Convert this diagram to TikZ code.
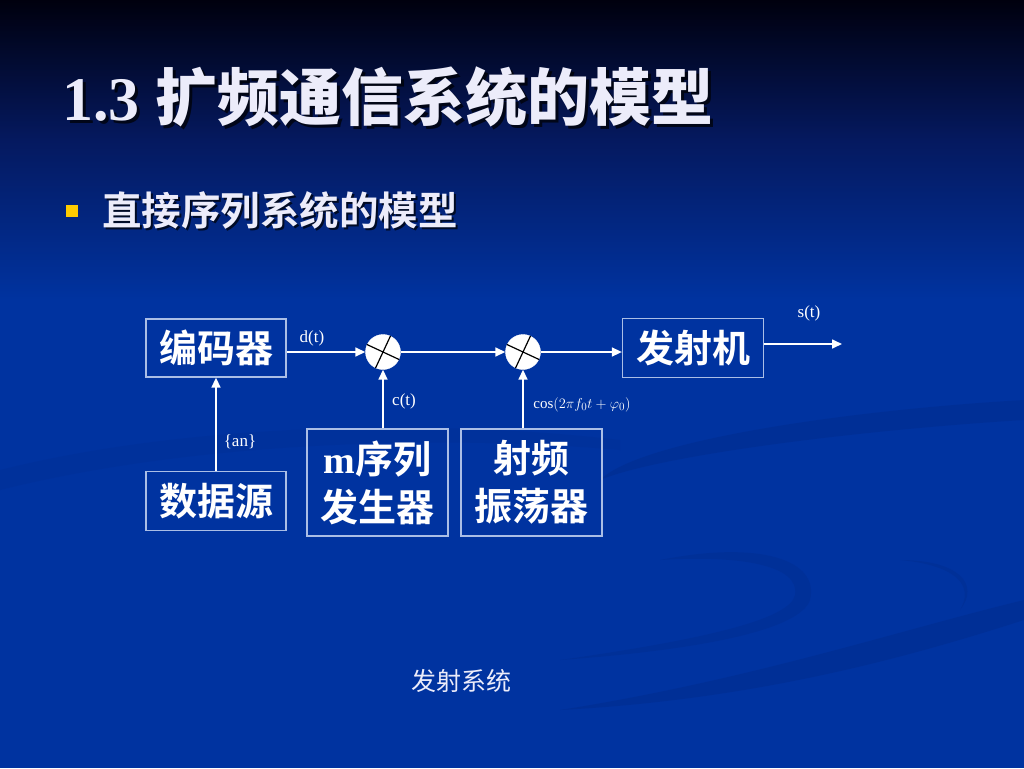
\documentclass[tikz,border=0pt]{standalone}
\usepackage{fontspec}
\setmainfont{Liberation Serif}
\newfontfamily\cjk{Noto Sans CJK SC}
\newfontfamily\cjkb{Noto Sans CJK SC Bold}
\usetikzlibrary{arrows.meta,calc}
\definecolor{bgblue}{RGB}{0,51,160}
\definecolor{bgtop}{RGB}{0,0,14}
\definecolor{bgmid}{RGB}{5,25,95}
\definecolor{titlec}{RGB}{236,236,250}
\definecolor{boxline}{RGB}{170,190,230}
\definecolor{bulletc}{RGB}{255,204,0}
\definecolor{swoosh}{RGB}{0,40,130}
\tikzset{
  blk/.style={draw=boxline,line width=1.3pt,text=white,inner sep=0pt,align=center,
    font=\cjkb\fontsize{38}{48}\selectfont},
  mixer/.style={circle,fill=white,draw=white,minimum size=35pt,inner sep=0pt},
  sig/.style={white,line width=1.6pt,-{Triangle[length=10pt,width=9pt]}},
  lbl/.style={text=white,inner sep=0pt,font=\fontsize{17}{20}\selectfont},
}
\begin{document}
\begin{tikzpicture}[x=1pt,y=-1pt]
\useasboundingbox (0,0) rectangle (1024,768);
% background
\fill[bgblue] (0,0) rectangle (1024,768);
\shade[top color=bgtop,bottom color=bgmid] (0,0) rectangle (1024,140);
\shade[top color=bgmid,bottom color=bgblue] (0,139.5) rectangle (1024,300);
% swooshes
\fill[swoosh,opacity=0.3] (600,480) .. controls (640,440) and (850,410) .. (1024,400)
  -- (1024,420) .. controls (860,430) and (660,455) .. (600,480) -- cycle;
\fill[swoosh,opacity=0.15] (0,470) .. controls (200,420) and (450,420) .. (620,440)
  -- (620,450) .. controls (450,435) and (200,440) .. (0,490) -- cycle;
\fill[swoosh,opacity=0.3] (560,710) .. controls (750,680) and (900,630) .. (1024,600)
  -- (1024,620) .. controls (900,660) and (750,700) .. (560,710) -- cycle;
\fill[swoosh,opacity=0.25] (660,560) .. controls (760,540) and (820,560) .. (810,600)
  .. controls (800,630) and (700,650) .. (560,660)
  .. controls (700,640) and (790,620) .. (795,595)
  .. controls (800,565) and (740,555) .. (660,560) -- cycle;
\fill[swoosh,opacity=0.25] (900,560) .. controls (960,560) and (980,585) .. (960,610)
  .. controls (975,585) and (955,565) .. (900,560) -- cycle;
% title
\node[anchor=west,inner sep=0pt,text=black,opacity=0.7] (titleshadow) at (65,100)
  {\fontsize{62}{68}\selectfont\bfseries 1.3 {\cjkb 扩频通信系统的模型}};
\node[anchor=west,inner sep=0pt,text=titlec] (title) at (62,97)
  {\fontsize{62}{68}\selectfont\bfseries 1.3 {\cjkb 扩频通信系统的模型}};
% bullet
\fill[bulletc] (66,205) rectangle (78,217);
\node[anchor=west,inner sep=0pt,text=black,opacity=0.7] (bulletshadow) at (104,212)
  {\cjkb\fontsize{39.5}{44}\selectfont 直接序列系统的模型};
\node[anchor=west,inner sep=0pt,text=titlec] (bullet) at (102,210)
  {\cjkb\fontsize{39.5}{44}\selectfont 直接序列系统的模型};
% blocks
\node[blk,minimum width=140pt,minimum height=58pt] (enc) at (216,348) {编码器};
\node[blk,minimum width=140pt,minimum height=59pt] (src) at (216,501) {数据源};
\node[blk,minimum width=141pt,minimum height=107pt] (mseq) at (377.5,482.5)
  {{\rmfamily\bfseries m}序列\\发生器};
\node[blk,minimum width=141pt,minimum height=107pt] (rf) at (531.5,482.5)
  {射频\\振荡器};
\node[blk,minimum width=141pt,minimum height=59pt] (tx) at (693,348) {发射机};
% mixers
\node[mixer] (mix1) at (383,352) {};
\node[mixer] (mix2) at (523,352) {};
\foreach \m in {mix1,mix2}{
  \draw[black,line width=1.2pt] (\m.155) -- (\m.-25);
  \draw[black,line width=1.2pt] (\m.-115) -- (\m.65);
}
% connectors
\coordinate (out) at (842,344);
\draw[sig] (enc.east |- mix1) -- (mix1.west);
\draw[sig] (mix1.east) -- (mix2.west);
\draw[sig] (mix2.east) -- (tx.west |- mix2);
\draw[sig] (tx.east |- out) -- (out);
\draw[sig] (src.north) -- (enc.south);
\draw[sig] (mix1 |- mseq.north) -- (mix1.south);
\draw[sig] (mix2 |- rf.north) -- (mix2.south);
% labels
\node[lbl] (ld) at (312,338) {d(t)};
\node[lbl] (lc) at (404,401) {c(t)};
\node[lbl,font=\fontsize{15}{17}\selectfont] (lcos) at (582,405) {$\cos(2\pi f_0 t+\varphi_0)$};
\node[lbl] (lan) at (240,442) {\{an\}};
\node[lbl] (ls) at (809,313) {s(t)};
% footer
\node[text=titlec,inner sep=0pt,font=\cjk\fontsize{25}{28}\selectfont] (footer) at (461,681) {发射系统};
\end{tikzpicture}
\end{document}
